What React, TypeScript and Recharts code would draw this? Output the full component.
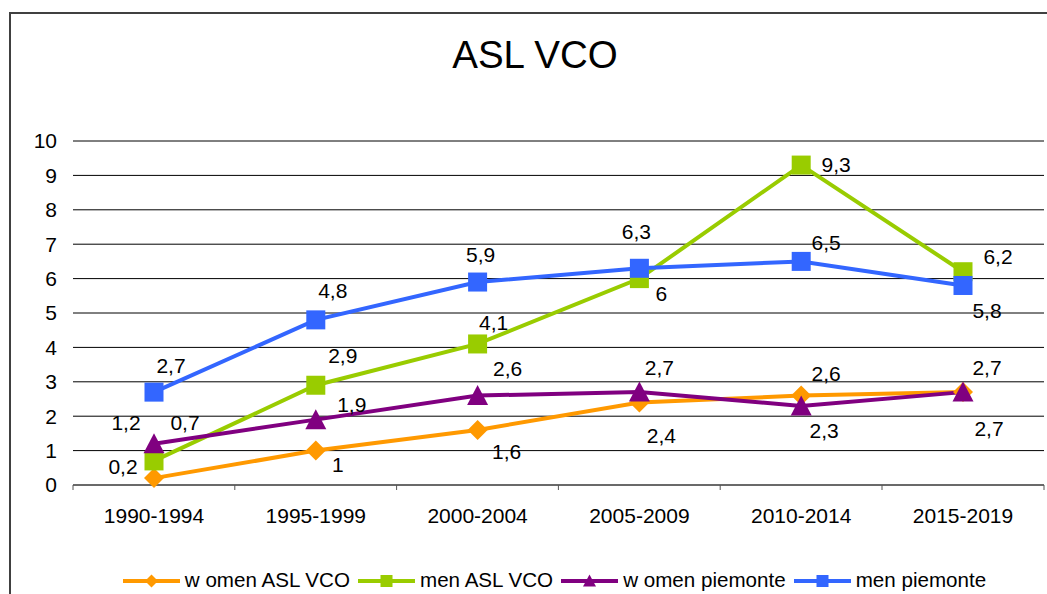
import React from 'react';
import { LineChart, Line, XAxis, YAxis, CartesianGrid, Legend, LabelList } from 'recharts';

// categories and values
const periods = ['1990-1994', '1995-1999', '2000-2004', '2005-2009', '2010-2014', '2015-2019'];
const womenAslVco = [0.2, 1, 1.6, 2.4, 2.6, 2.7];
const menAslVco = [0.7, 2.9, 4.1, 6, 9.3, 6.2];
const womenPiemonte = [1.2, 1.9, 2.6, 2.7, 2.3, 2.7];
const menPiemonte = [2.7, 4.8, 5.9, 6.3, 6.5, 5.8];
const yTicks = [0, 1, 2, 3, 4, 5, 6, 7, 8, 9, 10];

const FONT = '"Liberation Sans", Arial, sans-serif';
const AXIS = '#555';
const HALF_STEP = 81;
const X_TICK_SIZE = 5;
const X_TICK_MARGIN = 18;
const TEXT_SIZE = 21;

const data = periods.map((period, i) => ({
    period,
    wAsl: womenAslVco[i],
    mAsl: menAslVco[i],
    wPie: womenPiemonte[i],
    mPie: menPiemonte[i],
}));

type Shape = 'diamond' | 'square' | 'triangle';

// label placement, as [dx, dy] from each point
const series: { key: string; name: string; color: string; shape: Shape; size: number; offsets: number[][] }[] = [
    {
        key: 'wAsl', name: 'w omen ASL VCO', color: '#FF9900', shape: 'diamond', size: 20,
        offsets: [[-31, -12], [22, 14], [29, 21], [22, 33], [25, -22], [24, -25]],
    },
    {
        key: 'mAsl', name: 'men ASL VCO', color: '#99CC00', shape: 'square', size: 19,
        offsets: [[31, -38], [27, -30], [16, -22], [22, 15], [35, -1], [35, -15]],
    },
    {
        key: 'wPie', name: 'w omen piemonte', color: '#800080', shape: 'triangle', size: 21,
        offsets: [[-28, -21], [36, -15], [30, -27], [20, -25], [23, 25], [26, 36]],
    },
    {
        key: 'mPie', name: 'men piemonte', color: '#3366FF', shape: 'square', size: 19,
        offsets: [[17, -27], [17, -29], [3, -28], [-3, -37], [25, -19], [24, 25]],
    },
];

const Marker = ({ shape, cx, cy, size, color }: { shape: Shape; cx: number; cy: number; size: number; color: string }) => {
    const h = size / 2;
    if (shape === 'diamond') {
        return <polygon points={`${cx},${cy - h} ${cx + h},${cy} ${cx},${cy + h} ${cx - h},${cy}`} fill={color} />;
    }
    if (shape === 'triangle') {
        return <polygon points={`${cx},${cy - h} ${cx + h},${cy + h - 1} ${cx - h},${cy + h - 1}`} fill={color} />;
    }
    return <rect x={cx - h} y={cy - h} width={size} height={size} fill={color} />;
};

const XTick = (props: any) => {
    const { x, y, payload, index } = props;
    const axisY = y - X_TICK_SIZE - X_TICK_MARGIN;
    return (
        <g>
            <line x1={x - HALF_STEP} x2={x - HALF_STEP} y1={axisY} y2={axisY + X_TICK_SIZE} stroke={AXIS} />
            {index === periods.length - 1 && (
                <line x1={x + HALF_STEP} x2={x + HALF_STEP} y1={axisY} y2={axisY + X_TICK_SIZE} stroke={AXIS} />
            )}
            <text x={x} y={y} dy="0.71em" textAnchor="middle" fill="#000" fontSize={TEXT_SIZE} fontFamily={FONT}>
                {payload.value}
            </text>
        </g>
    );
};

const renderLabel = (offsets: number[][]) => (p: any) => {
    const [dx, dy] = offsets[p.index] || [0, -20];
    return (
        <text
            key={`l-${p.index}`}
            x={p.x + dx}
            y={p.y + dy}
            dy="0.36em"
            textAnchor="middle"
            fill="#000"
            fontSize={TEXT_SIZE}
            fontFamily={FONT}
        >
            {String(p.value).replace('.', ',')}
        </text>
    );
};

const LegendContent = () => (
    <div style={{ display: 'flex', justifyContent: 'center', alignItems: 'center', height: 30, fontFamily: FONT, fontSize: 20.6, color: '#000' }}>
        {series.map(s => (
            <div key={s.key} style={{ display: 'flex', alignItems: 'center', marginRight: 8 }}>
                <svg width={57} height={20} style={{ marginRight: 5 }}>
                    <line x1={0} x2={57} y1={11} y2={11} stroke={s.color} strokeWidth={4} />
                    <Marker shape={s.shape} cx={28.5} cy={11} size={s.shape === 'square' ? 12 : 13} color={s.color} />
                </svg>
                <span style={{ whiteSpace: 'pre' }}>{s.name}</span>
            </div>
        ))}
    </div>
);

const App: React.FC = () => {
    return (
        <div style={{ position: 'absolute', left: 0, top: 0, width: 1047, height: 594, overflow: 'hidden', background: '#fff', fontFamily: FONT }}>
            {/* chart frame, only its left and top edges fall inside the picture */}
            <div style={{ position: 'absolute', left: 9, top: 12, width: 1200, height: 800, borderLeft: '2px solid #404040', borderTop: '2px solid #404040' }} />

            <svg width={1047} height={90} style={{ position: 'absolute', left: 0, top: 0 }}>
                <text x={535} y={68} textAnchor="middle" fontSize={38.5} fontFamily={FONT} fill="#000">ASL VCO</text>
            </svg>

            <div style={{ position: 'absolute', left: 0, top: 0 }}>
                <LineChart width={1047} height={594} data={data} margin={{ top: 141, right: 3, left: 0, bottom: 49 }}>
                    <CartesianGrid vertical={false} stroke="#000" strokeWidth={1} />
                    <XAxis
                        dataKey="period"
                        padding={{ left: HALF_STEP, right: HALF_STEP }}
                        interval={0}
                        height={30}
                        tickLine={false}
                        tickSize={X_TICK_SIZE}
                        tickMargin={X_TICK_MARGIN}
                        axisLine={{ stroke: AXIS }}
                        tick={<XTick />}
                    />
                    <YAxis
                        width={73}
                        domain={[0, 10]}
                        ticks={yTicks}
                        interval={0}
                        axisLine={false}
                        tickLine={false}
                        tickSize={6}
                        tickMargin={10}
                        tick={{ fill: '#000', fontSize: TEXT_SIZE, fontFamily: FONT }}
                    />
                    <Legend
                        verticalAlign="bottom"
                        content={<LegendContent />}
                        wrapperStyle={{ position: 'absolute', left: 73, top: 565, width: 971, height: 30 }}
                    />
                    {series.map(s => (
                        <Line
                            key={s.key}
                            dataKey={s.key}
                            name={s.name}
                            stroke={s.color}
                            strokeWidth={4}
                            isAnimationActive={false}
                            activeDot={false}
                            dot={(p: any) => (
                                <Marker key={`${s.key}-${p.index}`} shape={s.shape} cx={p.cx} cy={p.cy} size={s.size} color={s.color} />
                            )}
                        >
                            <LabelList dataKey={s.key} content={renderLabel(s.offsets)} />
                        </Line>
                    ))}
                </LineChart>
            </div>
        </div>
    );
};

export default App;
